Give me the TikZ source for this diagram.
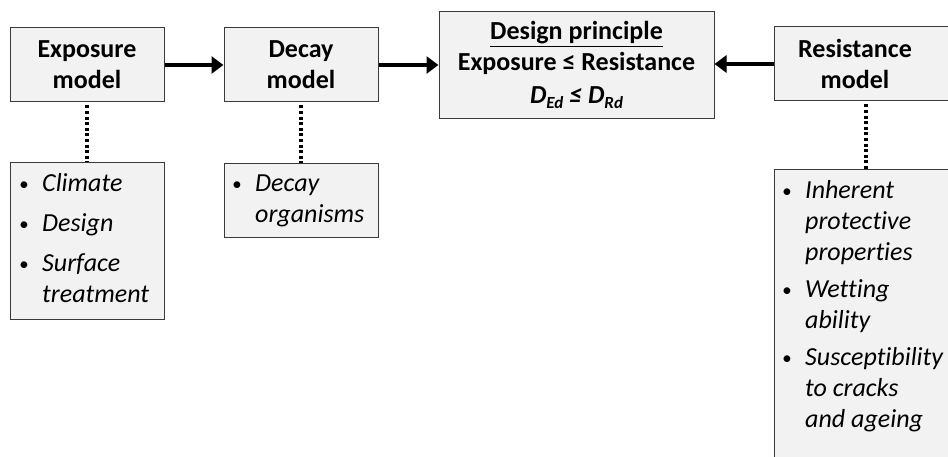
\documentclass[tikz,border=0pt]{standalone}
\usepackage{fontspec}
\setmainfont[Ligatures={NoCommon}]{Carlito}
\usetikzlibrary{arrows.meta}
\definecolor{boxfill}{HTML}{F2F2F2}
\definecolor{boxdraw}{HTML}{3A3A3A}
\newcommand\blt{\makebox[23pt][l]{\raisebox{1.5pt}{\fontsize{19}{19}\selectfont\textbullet}}}
\tikzset{
  box/.style={draw=boxdraw, fill=boxfill, line width=1pt, inner sep=0pt},
  headbox/.style={box, minimum width=154pt, minimum height=74pt, align=center,
    font=\fontsize{26}{31}\selectfont\bfseries},
  headtext/.style={inner sep=0pt, align=center, font=\fontsize{26}{31}\selectfont\bfseries},
  flow/.style={line width=4pt, -{Triangle[length=12pt,width=17pt]}},
  dots/.style={line width=3.3pt, dash pattern=on 3pt off 2.6pt, shorten <=3pt},
  listtext/.style={inner sep=0pt, anchor=base west, font=\fontsize{26}{31}\selectfont\itshape},
}
\begin{document}
\begin{tikzpicture}[x=1pt,y=-1pt]
\path[use as bounding box, clip] (0,0) rectangle (948,457);
\fill[white] (0,0) rectangle (948,457);
% header boxes
\node[headbox] (exp) at (87,65) {Exposure\\model};
\node[headbox] (dec) at (301,65) {Decay\\model};
\node[box, minimum width=275pt, minimum height=107pt] (des) at (576.5,65.5) {};
\node[inner sep=0pt, anchor=base, font=\fontsize{26}{32}\selectfont\bfseries, align=center]
  (destxt) at (576.5,104)
  {\underline{Design principle}\\[-1pt]Exposure ≤ Resistance\\[1pt]
   \textit{D\raisebox{-5pt}{\fontsize{17}{17}\selectfont Ed} ≤ D\raisebox{-5pt}{\fontsize{17}{17}\selectfont Rd}}};
\node[box, minimum width=184pt, minimum height=74pt] (resbox) at (866,64) {};
\node[headtext] (res) at (855,64) {Resistance\\model};
% list boxes
\node[box, minimum width=154pt, minimum height=156pt] (explist) at (87,241) {};
\node[listtext] (explisttxt) at (19,192) {\begin{tabular}[t]{@{}l@{}l@{}}
  \blt & Climate\\[9pt]
  \blt & Design\\[9pt]
  \blt & Surface\\
       & treatment
  \end{tabular}};
\node[box, minimum width=154pt, minimum height=74pt] (declist) at (301,201) {};
\node[listtext] (declisttxt) at (232,192) {\begin{tabular}[t]{@{}l@{}l@{}}
  \blt & Decay\\
       & organisms
  \end{tabular}};
\node[box, minimum width=184pt, minimum height=300pt] (reslist) at (866,320) {};
\node[listtext] (reslisttxt) at (782,199) {\begin{tabular}[t]{@{}l@{}l@{}}
  \blt & Inherent\\
       & protective\\
       & properties\\[6pt]
  \blt & Wetting\\
       & ability\\[6pt]
  \blt & Susceptibility\\
       & to cracks\\
       & and ageing
  \end{tabular}};
% connectors
\draw[flow] (exp) -- (dec);
\draw[flow] (dec.east) -- (dec.east -| des.west);
\draw[flow] (resbox.west) -- (resbox.west -| des.east);
\draw[dots] (exp.south) -- (explist.north);
\draw[dots] (dec.south) -- (declist.north);
\draw[dots] (resbox.south) -- (reslist.north);
\end{tikzpicture}
\end{document}
